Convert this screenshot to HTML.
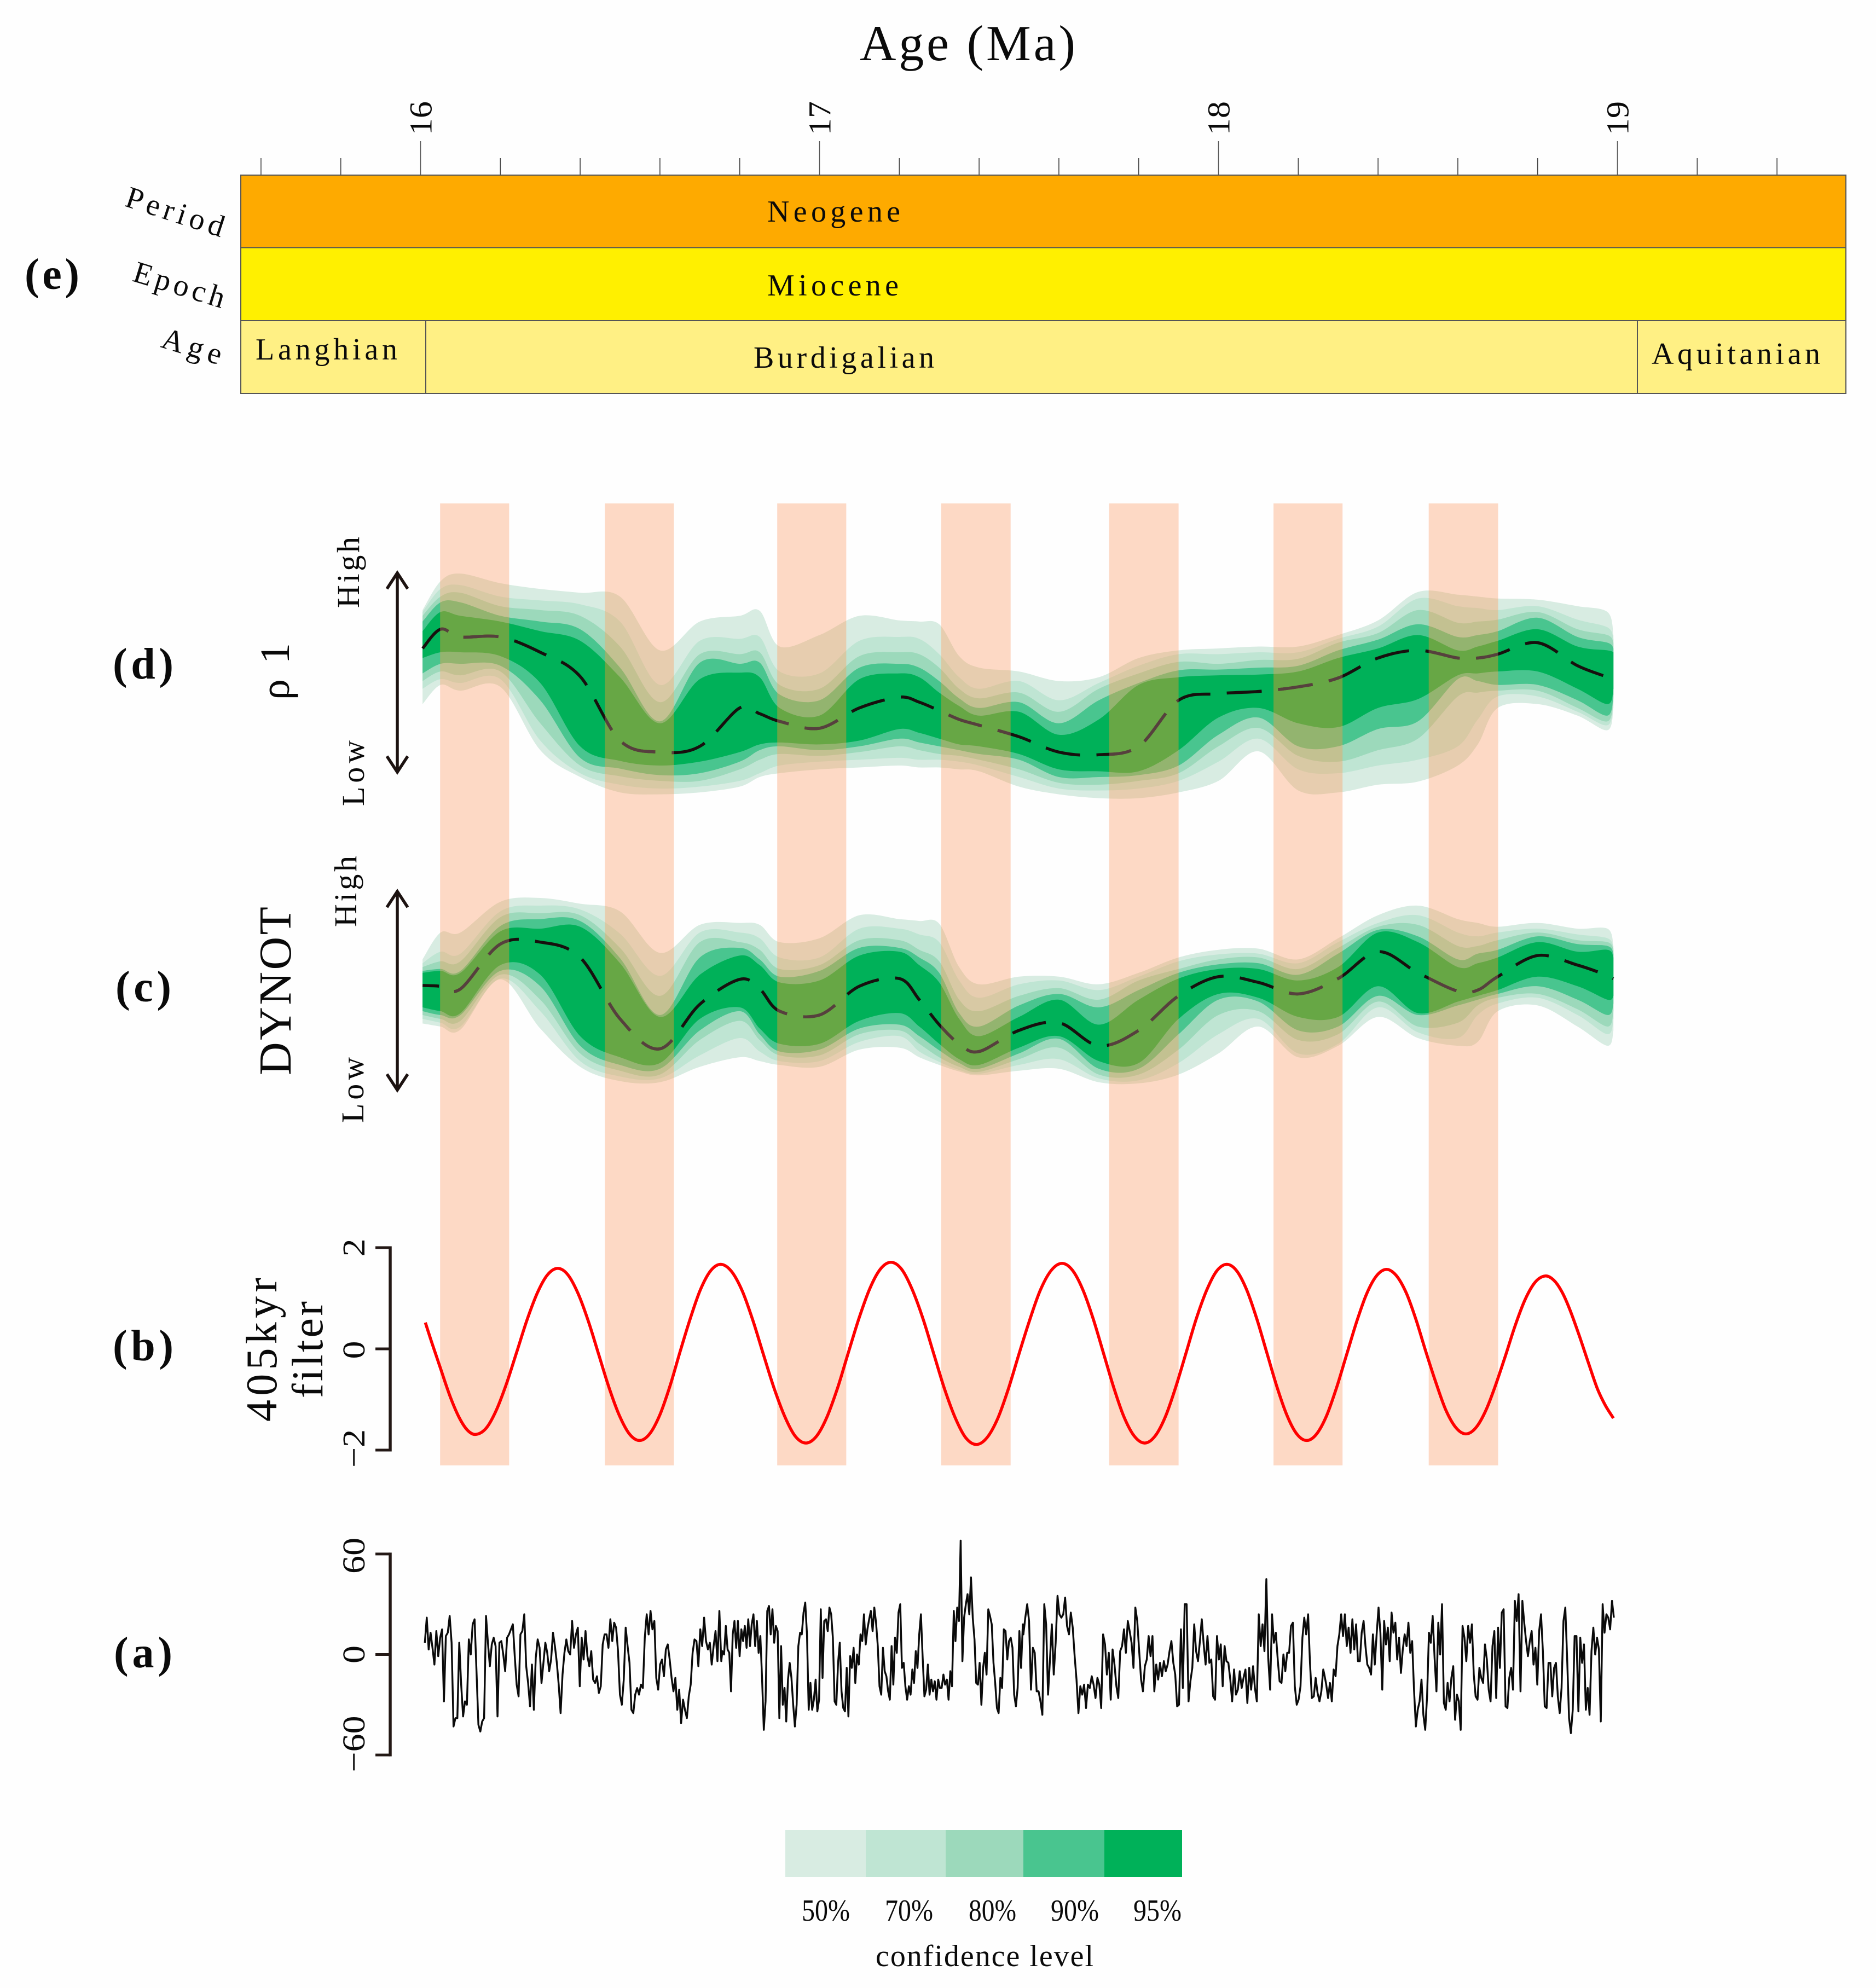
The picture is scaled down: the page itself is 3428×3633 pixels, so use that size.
<!DOCTYPE html>
<html lang="en">
<head>
<meta charset="utf-8">
<title>Age (Ma) cyclostratigraphy chart</title>
<style>
html,body{margin:0;padding:0;background:#fefefe}
svg{display:block;font-family:"Liberation Serif",serif}
text{fill:#0a0a0a}
</style>
</head>
<body>
<svg id="chart" xmlns="http://www.w3.org/2000/svg" width="3428" height="3633" viewBox="0 0 3428 3633">
<defs><clipPath id="bandClip"></clipPath></defs>
<rect x="0" y="0" width="3428" height="3633" fill="#fefefe"/>
<g id="chronoTicks"></g>
<text x="1571" y="110" font-size="92" textLength="394" lengthAdjust="spacing">Age (Ma)</text>

<g stroke="#555" stroke-width="2">
<rect x="440" y="320" width="2933" height="132.5" fill="#feaa00"/>
<rect x="440" y="452.5" width="2933" height="133.5" fill="#fff000"/>
<rect x="440" y="586" width="338" height="133" fill="#fff084"/>
<rect x="778" y="586" width="2214" height="133" fill="#fff084"/>
<rect x="2992" y="586" width="381" height="133" fill="#fff084"/>
</g>
<text x="1402" y="405" font-size="56" textLength="243" lengthAdjust="spacing">Neogene</text>
<text x="1402" y="540" font-size="56" textLength="240" lengthAdjust="spacing">Miocene</text>
<text x="467" y="657" font-size="56" textLength="259" lengthAdjust="spacing">Langhian</text>
<text x="1377" y="672" font-size="56" textLength="330" lengthAdjust="spacing">Burdigalian</text>
<text x="3018" y="665" font-size="56" textLength="308" lengthAdjust="spacing">Aquitanian</text>
<text transform="translate(226,376) rotate(18)" font-size="56" textLength="186" lengthAdjust="spacing">Period</text>
<text transform="translate(240,513) rotate(17)" font-size="56" textLength="172" lengthAdjust="spacing">Epoch</text>
<text transform="translate(292,634) rotate(17)" font-size="56" textLength="112" lengthAdjust="spacing">Age</text>

<text x="45" y="528" font-size="80" font-weight="bold" textLength="100" lengthAdjust="spacing">(e)</text>
<text x="206" y="1240" font-size="80" font-weight="bold" textLength="111" lengthAdjust="spacing">(d)</text>
<text x="211" y="1830" font-size="80" font-weight="bold" textLength="102" lengthAdjust="spacing">(c)</text>
<text x="206" y="2486" font-size="80" font-weight="bold" textLength="111" lengthAdjust="spacing">(b)</text>
<text x="208" y="3047" font-size="80" font-weight="bold" textLength="107" lengthAdjust="spacing">(a)</text>

<g id="rhoPanel"></g>
<g id="dynotPanel"></g>
<g id="bands"></g>
<g id="bandMedians" clip-path="url(#bandClip)"></g>
<g id="filterPanel"></g>
<g id="tuningPanel"></g>

<g fill="none" stroke="#1c1210" stroke-width="5.5">
<path d="M726 1047V1411"/>
<path d="M707 1076L726 1047L745 1076"/>
<path d="M707 1382L726 1411L745 1382"/>
</g>
<g fill="none" stroke="#1c1210" stroke-width="5.5">
<path d="M726 1629V1992"/>
<path d="M707 1658L726 1629L745 1658"/>
<path d="M707 1963L726 1992L745 1963"/>
</g>

<text transform="translate(656,1111) rotate(-90)" font-size="58" textLength="130" lengthAdjust="spacing">High</text>
<text transform="translate(665,1473) rotate(-90)" font-size="58" textLength="120" lengthAdjust="spacing">Low</text>
<text transform="translate(651,1694) rotate(-90)" font-size="58" textLength="130" lengthAdjust="spacing">High</text>
<text transform="translate(664,2052) rotate(-90)" font-size="58" textLength="120" lengthAdjust="spacing">Low</text>
<text transform="translate(528,1279) rotate(-90)" font-size="76" textLength="104" lengthAdjust="spacing">ρ 1</text>
<text transform="translate(531,1965) rotate(-90)" font-size="84" textLength="308" lengthAdjust="spacing">DYNOT</text>
<text transform="translate(505,2598) rotate(-90)" font-size="80" textLength="263" lengthAdjust="spacing">405kyr</text>
<text transform="translate(589,2555) rotate(-90)" font-size="80" textLength="177" lengthAdjust="spacing">filter</text>

<g>
<rect x="1435" y="3344" width="147" height="86" fill="#d8ece2"/>
<rect x="1582" y="3344" width="146" height="86" fill="#bfe5d3"/>
<rect x="1728" y="3344" width="142" height="86" fill="#9cd9bb"/>
<rect x="1870" y="3344" width="148" height="86" fill="#49c58f"/>
<rect x="2018" y="3344" width="142" height="86" fill="#00b159"/>
<text x="1465" y="3510" font-size="56" textLength="88" lengthAdjust="spacingAndGlyphs">50%</text>
<text x="1617" y="3510" font-size="56" textLength="88" lengthAdjust="spacingAndGlyphs">70%</text>
<text x="1770" y="3510" font-size="56" textLength="87" lengthAdjust="spacingAndGlyphs">80%</text>
<text x="1920" y="3510" font-size="56" textLength="88" lengthAdjust="spacingAndGlyphs">90%</text>
<text x="2071" y="3510" font-size="56" textLength="88" lengthAdjust="spacingAndGlyphs">95%</text>
<text x="1600" y="3593" font-size="56" textLength="398" lengthAdjust="spacing">confidence level</text>
</g>
</svg>

<script>
// ---- Shared age axis ----
const majorAges = [16, 17, 18, 19];
const minorAges = [15.6, 15.8, 16.2, 16.4, 16.6, 16.8, 17.2, 17.4, 17.6, 17.8, 18.2, 18.4, 18.6, 18.8, 19.2, 19.4];

// ---- Shaded 405 kyr minimum bands (age in Ma) ----
const bandStartAges = [16.049, 16.462, 16.894, 17.305, 17.726, 18.138, 18.527];
const bandEndAges = [16.222, 16.635, 17.067, 17.479, 17.9, 18.311, 18.701];

// ---- Confidence envelopes: sampling ages ----
const envelopeAges = [16.005, 16.05, 16.1, 16.2, 16.3, 16.4, 16.5, 16.6, 16.7, 16.8, 16.85, 16.9, 17.0, 17.1, 17.2, 17.25, 17.3, 17.35, 17.4, 17.5, 17.6, 17.7, 17.8, 17.9, 18.0, 18.1, 18.2, 18.3, 18.4, 18.5, 18.6, 18.65, 18.7, 18.8, 18.9, 18.975, 18.99];

// ---- rho1: arbitrary units, increasing from High toward Low ----
const rhoUpper50 = [235,160,140,165,180,190,200,340,265,250,237,330,300,250,262,265,272,355,385,395,420,410,360,340,335,330,330,300,262,188,195,200,205,208,225,240,300];
const rhoUpper70 = [240,180,170,200,210,220,265,430,315,310,305,395,400,315,305,310,350,410,440,420,470,425,380,350,350,345,345,310,278,205,225,230,235,225,260,280,310];
const rhoUpper80 = [250,200,190,225,235,250,330,475,350,350,345,430,440,355,345,350,385,440,465,450,500,440,400,370,375,365,362,320,295,235,268,265,260,240,285,300,320];
const rhoUpper90 = [265,215,215,250,265,285,385,525,372,375,372,455,470,385,375,385,420,465,490,475,530,470,425,392,390,385,380,340,312,272,305,300,290,255,305,320,335];
const rhoUpper95 = [290,240,250,265,290,315,410,530,415,398,410,490,510,415,400,410,450,485,510,500,560,520,430,410,405,403,395,360,335,300,340,330,315,285,330,340,345];
const rhoMedian = [335,285,305,305,345,408,575,605,590,490,505,525,543,490,462,475,497,520,535,565,605,612,590,470,453,447,435,412,360,340,360,360,350,320,380,410,420];
const rhoLower95 = [360,345,345,355,425,590,628,640,630,605,585,580,585,575,545,555,570,585,590,610,650,655,655,600,515,490,530,540,490,467,405,400,395,395,440,480,440];
const rhoLower90 = [400,375,375,380,470,620,648,665,660,630,600,590,600,590,570,580,590,600,610,625,670,670,665,640,560,515,590,590,545,525,415,420,430,430,470,510,455];
const rhoLower80 = [420,395,405,395,530,640,668,680,680,650,625,610,615,605,590,600,610,615,625,650,685,690,680,660,590,542,615,630,600,570,460,450,445,445,490,525,465];
const rhoLower70 = [440,415,425,415,575,660,690,700,695,680,660,640,630,625,620,625,625,630,640,670,700,705,700,680,630,570,650,660,640,625,590,520,460,460,500,535,475];
const rhoLower50 = [480,430,445,435,600,670,710,715,710,695,670,660,650,645,640,645,645,650,655,695,715,725,725,710,680,603,705,710,690,682,640,585,490,480,510,548,490];

// ---- DYNOT: arbitrary units, increasing from High toward Low ----
const dynotUpper50 = [1145,1075,1075,995,985,1000,1020,1128,1055,1050,1055,1100,1090,1030,1040,1045,1052,1165,1210,1190,1190,1210,1180,1140,1120,1117,1145,1090,1030,1005,1040,1050,1060,1050,1065,1065,1110];
const dynotUpper70 = [1155,1125,1130,1020,1005,1015,1078,1188,1075,1075,1090,1140,1140,1065,1065,1080,1100,1200,1245,1210,1200,1225,1190,1150,1132,1130,1155,1100,1050,1030,1075,1085,1075,1065,1080,1090,1115];
const dynotUpper80 = [1165,1150,1150,1035,1025,1030,1115,1240,1100,1100,1120,1170,1160,1095,1095,1120,1150,1250,1280,1240,1220,1250,1200,1170,1145,1140,1170,1115,1060,1055,1110,1110,1095,1075,1095,1100,1120];
const dynotUpper90 = [1175,1170,1175,1058,1040,1045,1142,1290,1140,1115,1145,1190,1175,1115,1115,1140,1180,1285,1320,1265,1235,1270,1225,1180,1158,1155,1185,1130,1068,1085,1145,1130,1120,1085,1105,1110,1130];
const dynotUpper95 = [1180,1175,1180,1072,1065,1060,1155,1295,1185,1135,1160,1205,1200,1135,1125,1160,1205,1300,1345,1295,1250,1315,1250,1195,1170,1170,1200,1165,1075,1100,1165,1155,1140,1100,1125,1120,1140];
const dynotMedian = [1213,1215,1222,1105,1100,1140,1300,1378,1262,1197,1222,1280,1290,1215,1195,1250,1315,1365,1385,1330,1310,1370,1330,1240,1190,1205,1235,1195,1125,1180,1228,1225,1190,1135,1160,1187,1195];
const dynotLower95 = [1270,1280,1285,1160,1185,1345,1400,1415,1300,1270,1325,1365,1365,1305,1285,1320,1365,1405,1420,1375,1345,1410,1415,1300,1235,1245,1295,1295,1215,1285,1255,1240,1225,1190,1215,1250,1240];
const dynotLower90 = [1280,1290,1290,1175,1215,1370,1420,1430,1330,1280,1340,1385,1380,1325,1315,1345,1382,1415,1430,1390,1352,1430,1430,1340,1250,1255,1330,1320,1240,1290,1265,1250,1235,1215,1250,1290,1260];
const dynotLower80 = [1290,1300,1305,1185,1250,1390,1435,1445,1355,1305,1355,1395,1395,1340,1330,1365,1400,1425,1438,1405,1375,1445,1445,1380,1290,1280,1355,1340,1255,1320,1310,1265,1245,1235,1275,1320,1280];
const dynotLower70 = [1300,1310,1320,1195,1280,1410,1450,1455,1395,1350,1385,1410,1410,1360,1345,1385,1412,1433,1443,1420,1405,1455,1460,1415,1340,1300,1390,1365,1270,1335,1350,1290,1260,1245,1290,1340,1300];
const dynotLower50 = [1312,1320,1328,1197,1325,1425,1462,1465,1425,1400,1410,1420,1425,1380,1375,1400,1420,1437,1447,1435,1430,1465,1468,1445,1390,1320,1400,1370,1295,1350,1370,1360,1280,1265,1320,1370,1330];

// ---- 405 kyr filter ----
const filterAges = [16.012,16.03,16.051,16.075,16.097,16.118,16.139,16.1646,16.19,16.2159,16.2415,16.2671,16.293,16.3184,16.344,16.3696,16.395,16.4209,16.4465,16.4721,16.498,16.5234,16.549,16.5744,16.6,16.6251,16.65,16.6759,16.701,16.7266,16.752,16.7788,16.806,16.8323,16.859,16.8858,16.913,16.9393,16.966,16.9926,17.019,17.0459,17.072,17.0991,17.126,17.1524,17.179,17.2058,17.232,17.2593,17.286,17.3128,17.34,17.3663,17.393,17.4199,17.447,17.4736,17.5,17.5274,17.554,17.5811,17.608,17.6339,17.66,17.686,17.712,17.7374,17.763,17.7891,17.815,17.8408,17.867,17.8923,17.918,17.9438,17.97,17.9953,18.021,18.046,18.071,18.096,18.121,18.146,18.171,18.196,18.221,18.246,18.271,18.296,18.321,18.346,18.371,18.396,18.421,18.4459,18.471,18.4956,18.52,18.5454,18.57,18.5951,18.62,18.6449,18.67,18.6946,18.72,18.7444,18.769,18.7941,18.819,18.84,18.86,18.88,18.904,18.927,18.95,18.97,18.99];
const filterValues = [0.52,0.08,-0.41,-0.96,-1.36,-1.61,-1.69,-1.565,-1.21,-0.676,-0.05,0.577,1.11,1.465,1.59,1.461,1.09,0.539,-0.11,-0.759,-1.31,-1.681,-1.81,-1.678,-1.3,-0.735,-0.07,0.595,1.16,1.538,1.67,1.536,1.15,0.579,-0.1,-0.769,-1.34,-1.726,-1.86,-1.724,-1.34,-0.757,-0.08,0.607,1.19,1.574,1.71,1.573,1.18,0.598,-0.09,-0.778,-1.36,-1.753,-1.89,-1.754,-1.37,-0.784,-0.1,0.584,1.17,1.554,1.69,1.555,1.17,0.593,-0.09,-0.763,-1.34,-1.725,-1.86,-1.726,-1.34,-0.769,-0.1,0.579,1.15,1.536,1.67,1.538,1.16,0.595,-0.07,-0.735,-1.3,-1.678,-1.81,-1.682,-1.32,-0.766,-0.12,0.526,1.08,1.441,1.57,1.447,1.1,0.566,-0.06,-0.676,-1.21,-1.556,-1.68,-1.561,-1.22,-0.716,-0.12,0.476,0.98,1.32,1.44,1.36,1.14,0.79,0.27,-0.27,-0.79,-1.12,-1.37];
const filterTicks = [2, 0, -2];
const filterTickLabels = ['2', '0', '\u22122'];

// ---- Tuned record (a): four consecutive stretches, evenly spaced within each ----
const tuningSegmentStartAges = [16.0107, 16.7565, 17.511, 18.2654];
const tuningSegmentEndAges = [16.7538, 17.5096, 18.2627, 18.9911];
const tuningValuesA = [7,22,3,13,4,-6,14,-1,10,15,-28,11,13,23,7,-43,-38,-38,7,-18,-37,-28,-30,9,0,18,21,-10,-42,-46,-40,-38,23,7,-7,6,10,5,-37,7,8,0,-10,10,12,15,18,-1,-18,-25,12,14,24,-7,-17,-31,-6,-33,-2,9,4,-17,-5,7,1,-10,-3,13,5,-5,-18,-35,-12,1,9,2,0,20,4,12,16,-19,10,-3,14,-1,-7,2,-15,-17,-13,-23,-19,6,12,12,4,21,8,19,16,2,-24,-30,-15,16,5,-5,-33,-35,-24,-20,-24,-18,-20,10,24,12,26,15,20,-14,-21,-6,-3,-13,3,6,-3,-14,-22,-14,-33,-21,-41,-27,-33,-38,-25,-18,1,9,8,-7,15,5,22,8,3,7,-6,5,14,-4,26,-4];
const tuningValuesB = [2,0,17,3,1,-22,12,20,4,20,-1,15,8,17,4,21,5,18,24,5,20,1,11,-15,-45,-28,26,29,12,27,7,17,14,-38,5,-30,-20,-40,-15,-5,-14,-30,-43,-30,5,13,12,25,31,12,-33,-17,-33,-27,-15,-34,-27,27,-14,20,21,14,28,24,10,-28,-30,-5,7,-22,-32,-34,-8,-37,-1,-8,4,-17,0,-6,12,8,24,6,15,21,26,14,28,19,5,-19,-24,4,-10,-13,-22,-27,5,-18,10,1,25,30,-8,-5,-19,-27,-19,-24,-9,-17,2,-8,12,24,-2,-25,-21,-6,-24,-15,-22,-16,-27,-15,-20,-20,-12,-18,-15,-27,-10,-19,26,8,28,20,68,-4,22,30,36,24,46,22,9,-17,-18,-5,-30,-8,1,-12,27,23,18,-5,-17,-32,-35,-14,-20,15,14,-3,8,10,4,-24,-31,-20,14,-8,18];
const tuningValuesC = [12,22,30,20,-21,4,1,-22,-22,-28,-36,30,18,-24,-3,18,-12,7,35,24,22,24,34,17,12,25,16,-1,-15,-35,-19,-24,-18,-32,-18,-20,-13,-18,-26,-14,-18,-32,12,6,-12,1,-27,3,-6,-19,-26,2,5,15,1,20,14,7,-8,28,20,2,-15,-22,-7,-3,11,-1,11,-22,-6,-15,-5,-13,-4,-10,-6,2,8,-5,-12,-31,-30,15,-20,30,30,-28,-16,-8,18,2,-4,8,21,6,-6,11,-5,-3,-25,-27,11,-3,6,-19,5,-4,-5,-15,-28,-9,-24,-21,-10,-20,-14,-9,-29,-8,-21,-7,-20,-28,24,5,18,2,45,-2,-21,24,7,13,-3,-16,-17,0,-10,1,1,17,19,-19,-30,-27,-19,10,22,12,24,-5,-26,-25,-14,-23,-28,-22,-9];
const tuningValuesD = [-12,-18,-26,-17,-28,-9,-13,5,12,24,11,24,5,16,1,21,3,18,-4,-4,13,20,5,-6,-8,-12,12,-6,12,28,13,-21,20,6,16,-4,25,13,19,-3,10,-11,3,12,5,19,1,8,-21,-43,-33,-28,-15,-36,-45,-25,13,7,23,-2,-22,19,0,30,-29,-33,-17,-28,-14,-7,-39,-24,-28,-45,17,10,-4,17,7,18,-12,-25,-27,-8,-14,-17,6,-3,-21,-28,5,14,-26,16,-8,25,27,-31,-32,-14,-8,-21,32,20,36,-22,32,19,8,-1,8,14,-6,4,-18,14,24,2,-31,-32,-5,-5,-25,-8,-5,-25,-35,-20,20,28,-3,-38,-47,-33,11,11,-34,10,-5,6,-33,-20,-36,2,16,0,10,3,-40,30,13,24,22,15,32,22];
const tuningTicks = [60, 0, -60];
const tuningTickLabels = ['60', '0', '\u221260'];

// ---- Axis functions ----
const ageToX = age => 768.5 + (age - 16) * 729;
const proxyToY = v => 950 + v * 0.7015;
const filterToY = v => 2465 - 92.5 * v;
const tuningToY = v => 3023.5 - 3.06 * v;

const NS = 'http://www.w3.org/2000/svg';
function make(parent, tag, attrs) {
  const el = document.createElementNS(NS, tag);
  for (const key in attrs) el.setAttribute(key, attrs[key]);
  parent.appendChild(el);
  return el;
}
function smooth(points) {
  let d = '';
  for (let i = 0; i < points.length - 1; i++) {
    const p0 = points[Math.max(i - 1, 0)], p1 = points[i], p2 = points[i + 1], p3 = points[Math.min(i + 2, points.length - 1)];
    const c1x = p1[0] + (p2[0] - p0[0]) / 6, c1y = p1[1] + (p2[1] - p0[1]) / 6;
    const c2x = p2[0] - (p3[0] - p1[0]) / 6, c2y = p2[1] - (p3[1] - p1[1]) / 6;
    d += ' C' + c1x.toFixed(1) + ' ' + c1y.toFixed(1) + ' ' + c2x.toFixed(1) + ' ' + c2y.toFixed(1) + ' ' + p2[0].toFixed(1) + ' ' + p2[1].toFixed(1);
  }
  return d;
}
function curvePoints(ages, values, yScale) {
  return ages.map((age, i) => [ageToX(age), yScale(values[i])]);
}
function envelopePath(upper, lower) {
  const top = curvePoints(envelopeAges, upper, proxyToY);
  const bottom = curvePoints(envelopeAges, lower, proxyToY).reverse();
  return 'M' + top[0][0].toFixed(1) + ' ' + top[0][1].toFixed(1) + smooth(top) +
    ' L' + bottom[0][0].toFixed(1) + ' ' + bottom[0][1].toFixed(1) + smooth(bottom) + ' Z';
}
function medianPath(values) {
  const pts = curvePoints(envelopeAges, values, proxyToY);
  return 'M' + pts[0][0] + ' ' + pts[0][1] + smooth(pts);
}

// ---- Age ticks ----
const ticksGroup = document.getElementById('chronoTicks');
minorAges.forEach(age => {
  const tick = make(ticksGroup, 'line', { x1: ageToX(age), x2: ageToX(age), y1: 289, y2: 320, stroke: '#444', 'stroke-width': 1.6 });
  
  
});
majorAges.forEach(age => {
  const tick = make(ticksGroup, 'line', { x1: ageToX(age), x2: ageToX(age), y1: 258, y2: 320, stroke: '#555', 'stroke-width': 1.6 });
  
  
  const label = make(ticksGroup, 'text', { transform: 'translate(' + (ageToX(age) + 20) + ',247) rotate(-90)', 'font-size': 58, textLength: 62, lengthAdjust: 'spacingAndGlyphs' });
  
  
  label.textContent = String(age);
});

// ---- Envelope panels ----
const levelNames = ['50', '70', '80', '90', '95'];
const levelColors = ['#d8ece2', '#bfe5d3', '#9cd9bb', '#49c58f', '#00b159'];
function drawEnvelopes(groupId, prefix, uppers, lowers, median, dashOffset) {
  const group = document.getElementById(groupId);
  uppers.forEach((upper, i) => {
    const layer = make(group, 'path', { d: envelopePath(upper, lowers[i]), fill: levelColors[i] });
    
    
  });
  const line = make(group, 'path', {
    d: medianPath(median), fill: 'none', stroke: '#17100e', 'stroke-width': 5.5,
    'stroke-dasharray': '64 30', 'stroke-dashoffset': dashOffset
  });
  
  
}
drawEnvelopes('rhoPanel', 'rho1',
  [rhoUpper50, rhoUpper70, rhoUpper80, rhoUpper90, rhoUpper95],
  [rhoLower50, rhoLower70, rhoLower80, rhoLower90, rhoLower95], rhoMedian, 0);
drawEnvelopes('dynotPanel', 'dynot',
  [dynotUpper50, dynotUpper70, dynotUpper80, dynotUpper90, dynotUpper95],
  [dynotLower50, dynotLower70, dynotLower80, dynotLower90, dynotLower95], dynotMedian, 34);

// ---- Bands (drawn over the envelopes) ----
const bandGroup = document.getElementById('bands');
const bandClip = document.getElementById('bandClip');
bandStartAges.forEach((start, i) => {
  const x = ageToX(start), w = ageToX(bandEndAges[i]) - x;
  const shade = make(bandGroup, 'rect', { x: x, y: 920, width: w, height: 1758, fill: 'rgb(253,208,198)', style: 'mix-blend-mode:multiply' });
  
  
  const tint = make(bandGroup, 'rect', { x: x, y: 920, width: w, height: 1758, fill: 'rgb(103,52,0)', style: 'mix-blend-mode:screen' });
  
  
  const clipRect = make(bandClip, 'rect', { x: x, y: 920, width: w, height: 1758 });
  
  
});

// ---- Median lines seen through the bands ----
const bandMedians = document.getElementById('bandMedians');
const rhoThrough = make(bandMedians, 'path', { d: medianPath(rhoMedian), fill: 'none', stroke: '#56403e', 'stroke-width': 5.5, 'stroke-dasharray': '64 30', 'stroke-dashoffset': 0 });


const dynotThrough = make(bandMedians, 'path', { d: medianPath(dynotMedian), fill: 'none', stroke: '#56403e', 'stroke-width': 5.5, 'stroke-dasharray': '64 30', 'stroke-dashoffset': 34 });



// ---- Numeric axes ----
function drawAxis(group, prefix, ticks, labels, yScale, labelShifts) {
  const axisLine = make(group, 'line', { x1: 713, x2: 713, y1: yScale(ticks[0]) - 2.5, y2: yScale(ticks[ticks.length - 1]) + 2.5, stroke: '#231815', 'stroke-width': 5.5 });
  
  
  ticks.forEach((value, i) => {
    const y = yScale(value);
    const tick = make(group, 'line', { x1: 686, x2: 713, y1: y, y2: y, stroke: '#231815', 'stroke-width': 5 });
    
    
    const label = make(group, 'text', { transform: 'translate(666,' + (y + labelShifts[i]) + ') rotate(-90) scale(1.14,1)', 'font-size': 58, 'text-anchor': 'middle' });
    
    
    label.textContent = labels[i];
  });
}

// ---- Filter (b) ----
const filterGroup = document.getElementById('filterPanel');
drawAxis(filterGroup, 'filter', filterTicks, filterTickLabels, filterToY, [0, 2, -3]);
const filterPts = curvePoints(filterAges, filterValues, filterToY);
const filterLine = make(filterGroup, 'path', {
  d: 'M' + filterPts[0][0] + ' ' + filterPts[0][1] + smooth(filterPts),
  fill: 'none', stroke: '#ff0000', 'stroke-width': 5.5
});



// ---- Tuned record (a) ----
const tuningGroup = document.getElementById('tuningPanel');
drawAxis(tuningGroup, 'tuning', tuningTicks, tuningTickLabels, tuningToY, [3, 0, -20]);
const tuningSegments = [tuningValuesA, tuningValuesB, tuningValuesC, tuningValuesD];
let tuningCoords = [];
tuningSegments.forEach((values, s) => {
  const start = tuningSegmentStartAges[s];
  const step = (tuningSegmentEndAges[s] - start) / (values.length - 1);
  values.forEach((v, i) => {
    tuningCoords.push(ageToX(start + i * step).toFixed(1) + ',' + tuningToY(v).toFixed(1));
  });
});
const tuningLine = make(tuningGroup, 'polyline', {
  points: tuningCoords.join(' '),
  fill: 'none', stroke: '#0a0a0a', 'stroke-width': 3.4, 'stroke-linejoin': 'round'
});


</script>
</body>
</html>
